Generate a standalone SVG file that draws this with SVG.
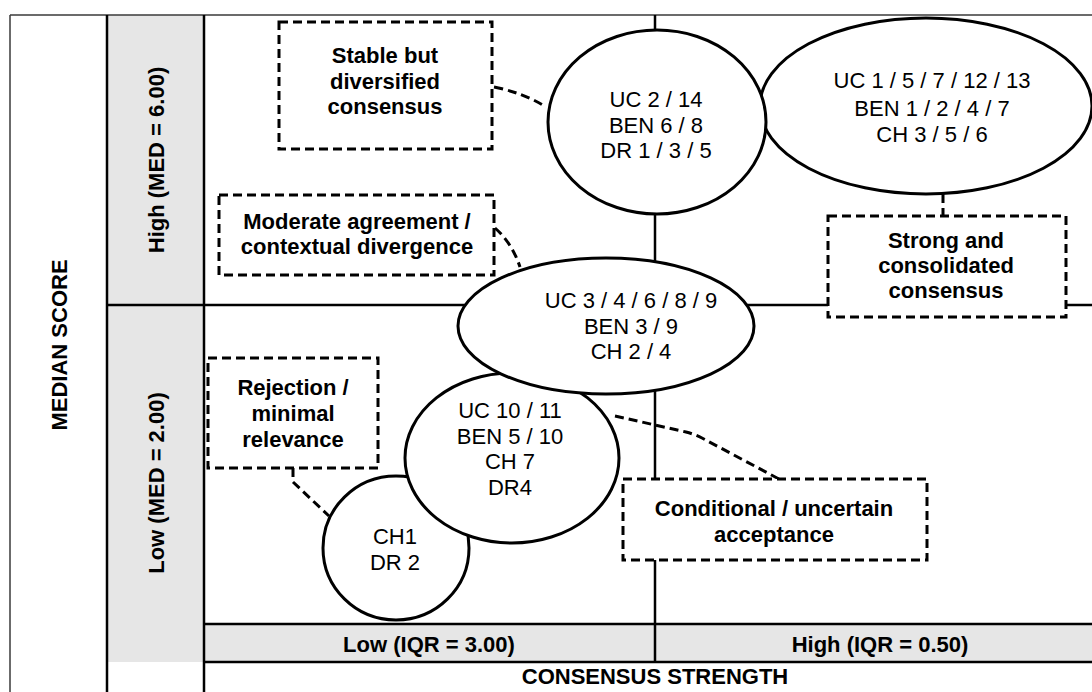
<svg xmlns="http://www.w3.org/2000/svg" width="1092" height="692" viewBox="0 0 1092 692">
  <style>
    .band { fill: #e6e6e6; }
    .frame { stroke: #3a3a3a; stroke-width: 1.5; fill: none; }
    .grid { stroke: #000; stroke-width: 2.5; fill: none; }
    .node { fill: #fff; stroke: #000; stroke-width: 3; }
    .note { fill: #fff; stroke: #000; stroke-width: 3; stroke-dasharray: 9 5; }
    .link { fill: none; stroke: #000; stroke-width: 3; stroke-dasharray: 9 5; }
    text { font-family: "Liberation Sans", Arial, sans-serif; fill: #000; text-anchor: middle; }
    .item { font-size: 22px; }
    .lbl { font-size: 22px; font-weight: bold; }
  </style>

  <rect width="1092" height="692" fill="#fff"/>

  <!-- axis bands -->
  <g id="axes">
    <rect class="band" x="107" y="15" width="97" height="647"/>
    <rect class="band" x="204" y="624" width="888" height="38"/>
    <line class="frame" x1="10" y1="15" x2="1092" y2="15"/>
    <line class="frame" x1="10" y1="15" x2="10" y2="692"/>
    <line class="grid" x1="107" y1="15" x2="107" y2="692"/>
    <line class="grid" x1="204" y1="15" x2="204" y2="692"/>
    <line class="grid" x1="107" y1="305" x2="1092" y2="305"/>
    <line class="grid" x1="655" y1="15" x2="655" y2="662"/>
    <line class="grid" x1="204" y1="624" x2="1092" y2="624"/>
    <line class="grid" x1="204" y1="662" x2="1092" y2="662"/>

    <text class="lbl" transform="translate(67,345) rotate(-90)" font-size="21">MEDIAN SCORE</text>
    <text class="lbl" transform="translate(164,160) rotate(-90)">High (MED = 6.00)</text>
    <text class="lbl" transform="translate(164,483) rotate(-90)">Low (MED = 2.00)</text>
    <text class="lbl" x="429" y="652">Low (IQR = 3.00)</text>
    <text class="lbl" x="880" y="652">High (IQR = 0.50)</text>
    <text class="lbl" x="655" y="684">CONSENSUS STRENGTH</text>
  </g>

  <!-- clusters -->
  <g id="cluster-strong">
    <ellipse class="node" cx="926" cy="106" rx="166" ry="88"/>
    <text class="item" x="932" y="88">UC 1 / 5 / 7 / 12 / 13</text>
    <text class="item" x="932" y="116">BEN 1 / 2 / 4 / 7</text>
    <text class="item" x="932" y="142">CH 3 / 5 / 6</text>
  </g>

  <g id="cluster-stable">
    <ellipse class="node" cx="657" cy="122" rx="109" ry="92"/>
    <text class="item" x="656" y="107">UC 2 / 14</text>
    <text class="item" x="656" y="133">BEN 6 / 8</text>
    <text class="item" x="656" y="158">DR 1 / 3 / 5</text>
  </g>

  <g id="cluster-rejection">
    <ellipse class="node" cx="396" cy="548" rx="73" ry="72"/>
    <text class="item" x="395" y="544">CH1</text>
    <text class="item" x="395" y="570">DR 2</text>
  </g>

  <g id="cluster-conditional">
    <ellipse class="node" cx="512" cy="458" rx="107" ry="85"/>
    <text class="item" x="510" y="418">UC 10 / 11</text>
    <text class="item" x="510" y="444">BEN 5 / 10</text>
    <text class="item" x="510" y="469">CH 7</text>
    <text class="item" x="510" y="495">DR4</text>
  </g>

  <g id="cluster-moderate">
    <ellipse class="node" cx="606" cy="326" rx="148" ry="68"/>
    <text class="item" x="631" y="308">UC 3 / 4 / 6 / 8 / 9</text>
    <text class="item" x="631" y="334">BEN 3 / 9</text>
    <text class="item" x="631" y="359">CH 2 / 4</text>
  </g>

  <!-- dashed leaders from notes to clusters -->
  <g id="connectors">
    <path class="link" d="M494,87 Q524,93 546,107"/>
    <path class="link" d="M495,228 Q512,243 520,267"/>
    <path class="link" d="M615,416 L686,432 Q694,434 702,438 L779,479"/>
    <path class="link" d="M943,194 L943,216"/>
    <path class="link" d="M293,468 L293,482 L329,516"/>
  </g>

  <!-- interpretation notes -->
  <g id="note-stable">
    <rect class="note" x="279" y="22" width="213" height="127"/>
    <text class="lbl" x="385" y="63">Stable but</text>
    <text class="lbl" x="385" y="89">diversified</text>
    <text class="lbl" x="385" y="114">consensus</text>
  </g>

  <g id="note-moderate">
    <rect class="note" x="219" y="195" width="275" height="80"/>
    <text class="lbl" x="357" y="229">Moderate agreement /</text>
    <text class="lbl" x="357" y="254">contextual divergence</text>
  </g>

  <g id="note-strong">
    <rect class="note" x="828" y="216" width="238" height="101"/>
    <text class="lbl" x="946" y="248">Strong and</text>
    <text class="lbl" x="946" y="273">consolidated</text>
    <text class="lbl" x="946" y="298">consensus</text>
  </g>

  <g id="note-rejection">
    <rect class="note" x="208" y="358" width="170" height="110"/>
    <text class="lbl" x="293" y="395">Rejection /</text>
    <text class="lbl" x="293" y="421">minimal</text>
    <text class="lbl" x="293" y="447">relevance</text>
  </g>

  <g id="note-conditional">
    <rect class="note" x="623" y="479" width="304" height="81"/>
    <text class="lbl" x="774" y="516">Conditional / uncertain</text>
    <text class="lbl" x="774" y="542">acceptance</text>
  </g>
</svg>
